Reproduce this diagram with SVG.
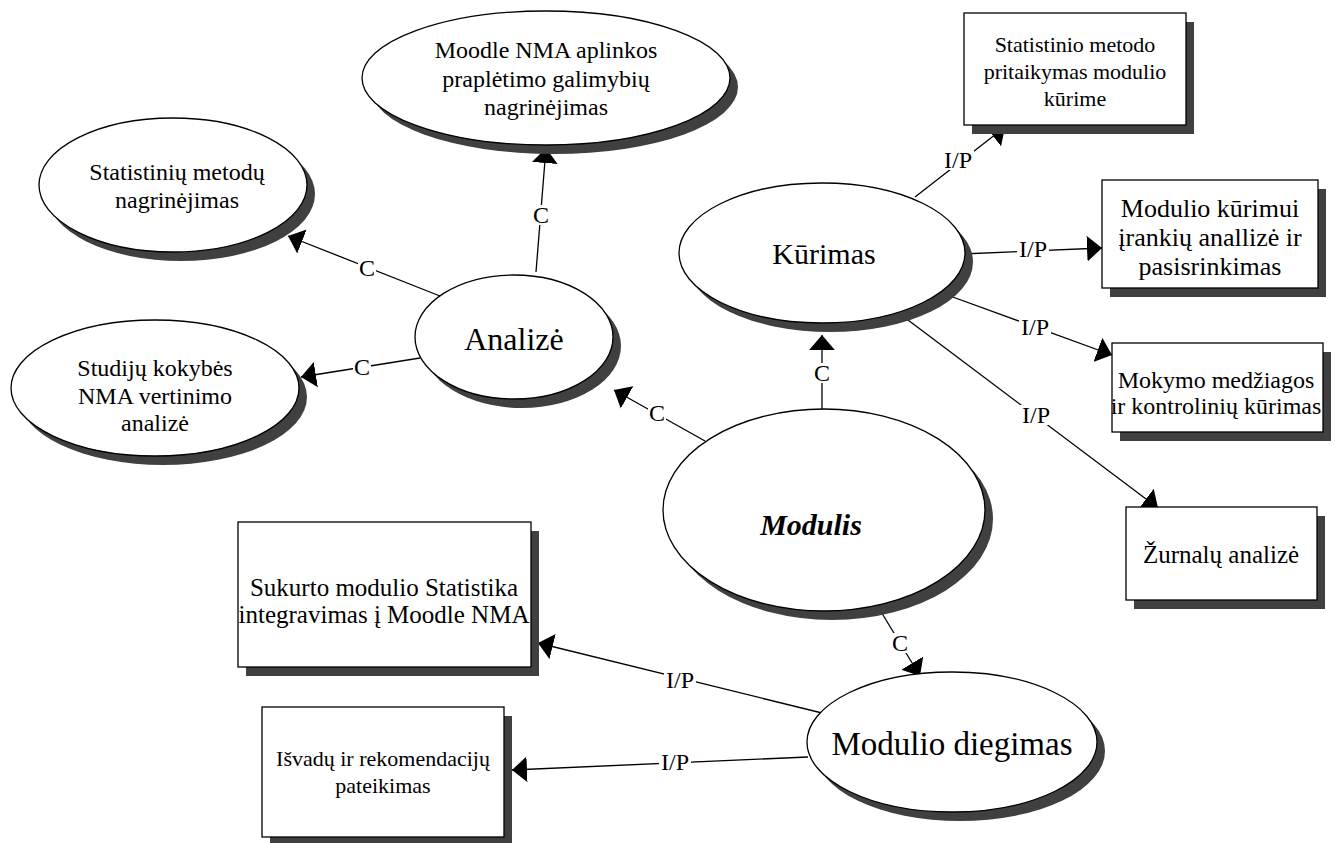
<svg xmlns="http://www.w3.org/2000/svg" width="1336" height="843" viewBox="0 0 1336 843">
<defs>
<marker id="ah" markerUnits="userSpaceOnUse" markerWidth="15" markerHeight="26" viewBox="0 0 14 24" refX="14" refY="12" orient="auto">
<path d="M0,0 L14,12 L0,24 z" fill="#000"/>
</marker>
<style>
.sh{fill:#404040;stroke:none}
.nd{fill:#fff;stroke:#000;stroke-width:1.3}
.t{font-family:"Liberation Serif","Times New Roman",serif;font-size:24px;fill:#000;text-anchor:middle}
.s22{font-size:22px}
.s25{font-size:25px}
.s26{font-size:26px}
.mod{font-size:30px;font-weight:bold;font-style:italic}
.cn{stroke:#000;stroke-width:1.3;fill:none;marker-end:url(#ah)}
.bg{fill:#fff;stroke:none}
.lb{font-family:"Liberation Serif","Times New Roman",serif;font-size:24px;fill:#000;text-anchor:middle}
</style>
</defs>
<rect width="1336" height="843" fill="#fff"/>

<g id="connectors">
<line class="cn" x1="536" y1="272" x2="546" y2="148"/>
<line class="cn" x1="440" y1="296" x2="288" y2="236"/>
<line class="cn" x1="420" y1="358" x2="301" y2="377"/>
<line class="cn" x1="705" y1="441" x2="614" y2="390"/>
<line class="cn" x1="822" y1="409" x2="822" y2="335"/>
<line class="cn" x1="915" y1="197" x2="1005" y2="127"/>
<line class="cn" x1="962" y1="254" x2="1102" y2="248"/>
<line class="cn" x1="950" y1="296" x2="1112" y2="355"/>
<line class="cn" x1="908" y1="320" x2="1158" y2="508"/>
<line class="cn" x1="880" y1="610" x2="920" y2="676"/>
<line class="cn" x1="822" y1="713" x2="538" y2="643"/>
<line class="cn" x1="808" y1="757" x2="512" y2="770"/>
<rect class="bg" x="532" y="205" width="18" height="20"/>
<rect class="bg" x="358" y="258" width="18" height="20"/>
<rect class="bg" x="353" y="357" width="18" height="20"/>
<rect class="bg" x="648" y="403" width="18" height="20"/>
<rect class="bg" x="813" y="363" width="18" height="20"/>
<rect class="bg" x="942" y="150" width="32" height="20"/>
<rect class="bg" x="1017" y="239" width="32" height="20"/>
<rect class="bg" x="1019" y="317" width="32" height="20"/>
<rect class="bg" x="1020" y="405" width="32" height="20"/>
<rect class="bg" x="891" y="633" width="18" height="20"/>
<rect class="bg" x="664" y="670" width="32" height="20"/>
<rect class="bg" x="659" y="752" width="32" height="20"/>
<text class="lb" x="541" y="223">C</text>
<text class="lb" x="367" y="276">C</text>
<text class="lb" x="362" y="375">C</text>
<text class="lb" x="657" y="421">C</text>
<text class="lb" x="822" y="381">C</text>
<text class="lb" x="958" y="168">I/P</text>
<text class="lb" x="1033" y="257">I/P</text>
<text class="lb" x="1035" y="335">I/P</text>
<text class="lb" x="1036" y="423">I/P</text>
<text class="lb" x="900" y="651">C</text>
<text class="lb" x="680" y="688">I/P</text>
<text class="lb" x="675" y="770">I/P</text>
</g>

<g id="moodle">
<ellipse class="sh" cx="554" cy="87" rx="184" ry="67"/>
<ellipse class="nd" cx="546" cy="78" rx="184" ry="67"/>
<text class="t" x="546" y="58">Moodle NMA aplinkos</text>
<text class="t" x="546" y="87">praplėtimo galimybių</text>
<text class="t" x="546" y="115">nagrinėjimas</text>
</g>

<g id="statistiniu">
<ellipse class="sh" cx="181" cy="194" rx="134" ry="67"/>
<ellipse class="nd" cx="173" cy="185" rx="134" ry="67"/>
<text class="t" x="177" y="180">Statistinių metodų</text>
<text class="t" x="177" y="208">nagrinėjimas</text>
</g>

<g id="studiju">
<ellipse class="sh" cx="163" cy="397" rx="144" ry="68"/>
<ellipse class="nd" cx="155" cy="388" rx="144" ry="68"/>
<text class="t" x="155" y="376">Studijų kokybės</text>
<text class="t" x="155" y="404">NMA vertinimo</text>
<text class="t" x="155" y="431">analizė</text>
</g>

<g id="analize">
<ellipse class="sh" cx="522" cy="346" rx="99" ry="62"/>
<ellipse class="nd" cx="514" cy="337" rx="99" ry="62"/>
<text class="t" x="514" y="350" style="font-size:32px">Analizė</text>
</g>

<g id="kurimas">
<ellipse class="sh" cx="830" cy="262" rx="143" ry="70"/>
<ellipse class="nd" cx="822" cy="253" rx="143" ry="70"/>
<text class="t" x="824" y="264" style="font-size:30px">Kūrimas</text>
</g>

<g id="modulis">
<ellipse class="sh" cx="832" cy="519" rx="161" ry="101"/>
<ellipse class="nd" cx="824" cy="510" rx="161" ry="101"/>
<text class="t mod" x="811" y="535">Modulis</text>
</g>

<g id="diegimas">
<ellipse class="sh" cx="960" cy="751" rx="145" ry="70"/>
<ellipse class="nd" cx="952" cy="742" rx="145" ry="70"/>
<text class="t" x="952" y="755" style="font-size:33px">Modulio diegimas</text>
</g>

<g id="box1">
<rect class="sh" x="972" y="22" width="222" height="112"/>
<rect class="nd" x="964" y="13" width="222" height="112"/>
<text class="t s22" x="1075" y="52">Statistinio metodo</text>
<text class="t s22" x="1075" y="79">pritaikymas modulio</text>
<text class="t s22" x="1075" y="106">kūrime</text>
</g>

<g id="box2">
<rect class="sh" x="1110" y="189" width="216" height="108"/>
<rect class="nd" x="1102" y="180" width="216" height="108"/>
<text class="t s26" x="1210" y="217">Modulio kūrimui</text>
<text class="t s26" x="1210" y="246">įrankių anallizė ir</text>
<text class="t s26" x="1210" y="275">pasisrinkimas</text>
</g>

<g id="box3">
<rect class="sh" x="1120" y="352" width="211" height="89"/>
<rect class="nd" x="1112" y="343" width="211" height="89"/>
<text class="t" x="1216" y="388">Mokymo medžiagos</text>
<text class="t" x="1216" y="414">ir kontrolinių kūrimas</text>
</g>

<g id="box4">
<rect class="sh" x="1134" y="516" width="191" height="93"/>
<rect class="nd" x="1126" y="507" width="191" height="93"/>
<text class="t s25" x="1221" y="563">Žurnalų analizė</text>
</g>

<g id="box5">
<rect class="sh" x="246" y="531" width="293" height="145"/>
<rect class="nd" x="238" y="522" width="293" height="145"/>
<text class="t s25" x="384" y="596">Sukurto modulio Statistika</text>
<text class="t s25" x="384" y="623">integravimas į Moodle NMA</text>
</g>

<g id="box6">
<rect class="sh" x="270" y="716" width="242" height="130"/>
<rect class="nd" x="262" y="707" width="242" height="130"/>
<text class="t s22" x="383" y="766">Išvadų ir rekomendacijų</text>
<text class="t s22" x="383" y="793">pateikimas</text>
</g>
</svg>
